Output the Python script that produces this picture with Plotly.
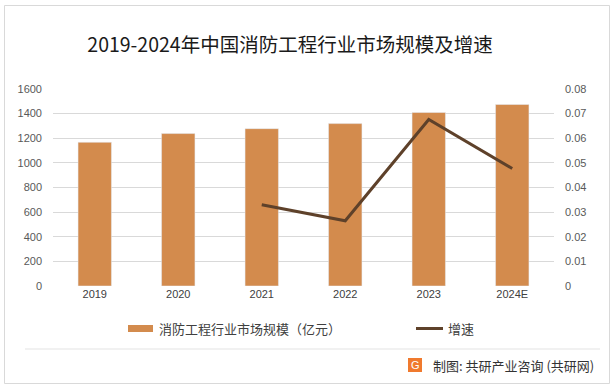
import plotly.graph_objects as go

years = ["2019", "2020", "2021", "2022", "2023", "2024E"]
market_size = [1167, 1238, 1278, 1319, 1409, 1474]
growth = [None, None, 0.033, 0.0265, 0.0676, 0.0477]

left_ticks = [0, 200, 400, 600, 800, 1000, 1200, 1400, 1600]
right_ticks = [0, 0.01, 0.02, 0.03, 0.04, 0.05, 0.06, 0.07, 0.08]
right_labels = ["0", "0.01", "0.02", "0.03", "0.04", "0.05", "0.06", "0.07", "0.08"]

title_text = "2019-2024年中国消防工程行业市场规模及增速"
bar_name = "消防工程行业市场规模（亿元）"
line_name = "增速"
footer = "制图: 共研产业咨询 (共研网)"

BAR_COLOR = "#D38B4D"
LINE_COLOR = "#5E412A"
CJK = "Noto Sans CJK SC"
TICK_FONT = dict(family="Liberation Sans, Arial", size=11, color="#595959")

W, H = 614, 388
L, R, T, B = 53, 60, 89, 102
PW, PH = W - L - R, H - T - B

fig = go.Figure()
fig.add_trace(go.Bar(x=years, y=market_size, marker_color=BAR_COLOR,
                     name=bar_name, yaxis="y", showlegend=False))
fig.add_trace(go.Scatter(x=years, y=growth, mode="lines", name=line_name,
                         line=dict(color=LINE_COLOR, width=3), yaxis="y2",
                         showlegend=False, connectgaps=False))

fig.update_layout(
    width=W, height=H,
    margin=dict(l=L, r=R, t=T, b=B, autoexpand=False),
    paper_bgcolor="white", plot_bgcolor="white",
    bargap=0.6,
    xaxis=dict(type="category", showgrid=False, showline=False, ticks="",
               automargin=False,
               tickfont=dict(family="Liberation Sans, Arial", size=11, color="#404040")),
    yaxis=dict(range=[0, 1600], tickvals=left_ticks, showgrid=True,
               gridcolor="#D9D9D9", gridwidth=1, zeroline=False, showline=False,
               automargin=False, tickfont=TICK_FONT, ticks="", ticklabelstandoff=10),
    yaxis2=dict(range=[0, 0.08], tickvals=right_ticks, ticktext=right_labels,
                overlaying="y", side="right", showgrid=False, zeroline=False,
                automargin=False, showline=False, tickfont=TICK_FONT, ticks="",
                ticklabelstandoff=10),
    title=dict(text=title_text, x=290 / W, xanchor="center", y=1 - 45 / H,
               yanchor="middle", font=dict(family=CJK, size=19.5, color="#1a1a1a")),
    showlegend=False,
)

def px(x):
    return (x - L) / PW

def py(y):
    return (H - B - y) / PH

shapes = [
    # outer border
    dict(type="rect", xref="paper", yref="paper", x0=px(4.5), x1=px(609.5),
         y0=py(383.5), y1=py(5.5), line=dict(color="#D9D9D9", width=1)),
    # separator line
    dict(type="line", xref="paper", yref="paper", x0=px(25), x1=px(600),
         y0=py(349), y1=py(349), line=dict(color="#E3E3E3", width=1)),
    # legend swatches
    dict(type="rect", xref="paper", yref="paper", x0=px(128), x1=px(153),
         y0=py(332), y1=py(325), fillcolor=BAR_COLOR, line=dict(width=0)),
    dict(type="line", xref="paper", yref="paper", x0=px(416), x1=px(443),
         y0=py(328.5), y1=py(328.5), line=dict(color=LINE_COLOR, width=3)),
    # footer logo
    dict(type="rect", xref="paper", yref="paper", x0=px(408), x1=px(422),
         y0=py(372), y1=py(358), fillcolor="#F07A2E", line=dict(width=0)),
]

annotations = [
    dict(text=bar_name, xref="paper", yref="paper", x=px(157), y=py(328.5),
         xanchor="left", yanchor="middle", showarrow=False,
         font=dict(family=CJK, size=13, color="#404040")),
    dict(text=line_name, xref="paper", yref="paper", x=px(446), y=py(328.5),
         xanchor="left", yanchor="middle", showarrow=False,
         font=dict(family=CJK, size=13, color="#404040")),
    dict(text="G", xref="paper", yref="paper", x=px(415), y=py(365),
         xanchor="center", yanchor="middle", showarrow=False,
         font=dict(family="Liberation Sans", size=11, color="white")),
    dict(text=footer, xref="paper", yref="paper", x=px(431), y=py(365),
         xanchor="left", yanchor="middle", showarrow=False,
         font=dict(family=CJK, size=13, color="#333333")),
]

fig.update_layout(shapes=shapes, annotations=annotations)
fig.write_html("out.html", config={"displayModeBar": False},
               post_script="document.body.style.margin='0';document.body.style.overflow='hidden';")
